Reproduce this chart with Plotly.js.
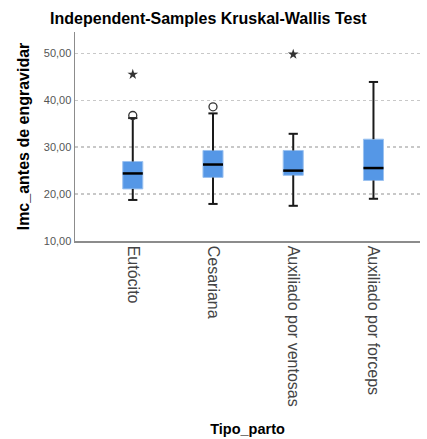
<!DOCTYPE html>
<html>
<head>
<meta charset="utf-8">
<script src="https://cdn.plot.ly/plotly-3.0.1.min.js"></script>
<style>html,body{margin:0;padding:0;background:#fff;}</style>
</head>
<body>
<div id="chart" style="width:427px;height:439px;"></div>
<script>
const categories = ["Eutócito", "Cesariana", "Auxiliado por ventosas", "Auxiliado por forceps"];
const q1Values = [21.1, 23.55, 24.0, 22.9];
const medianValues = [24.4, 26.3, 25.0, 25.55];
const q3Values = [26.95, 29.3, 29.3, 31.7];
const lowerWhisker = [18.75, 17.9, 17.5, 19.0];
const upperWhisker = [36.2, 37.2, 32.85, 43.9];
const circleOutlierCat = [0, 1];
const circleOutlierVal = [36.75, 38.6];
const starOutlierCat = [0, 2];
const starOutlierVal = [45.5, 49.8];
const yTicks = [10, 20, 30, 40, 50];

const pos = categories.map((c, i) => i);
const boxW = 0.25, capW = 0.115;

const traces = [];
traces.push({
  type: 'box', x: pos, q1: q1Values, median: medianValues, q3: q3Values,
  lowerfence: q1Values, upperfence: q3Values, width: boxW,
  fillcolor: '#5597e6', line: {color: '#9cc2f0', width: 1},
  whiskerwidth: 0, hoverinfo: 'skip', showlegend: false
});
const wx = [], wy = [];
pos.forEach((p, i) => {
  wx.push(p, p, null, p, p, null);
  wy.push(q3Values[i], upperWhisker[i], null, q1Values[i], lowerWhisker[i], null);
  wx.push(p - capW / 2, p + capW / 2, null, p - capW / 2, p + capW / 2, null);
  wy.push(upperWhisker[i], upperWhisker[i], null, lowerWhisker[i], lowerWhisker[i], null);
});
traces.push({type: 'scatter', mode: 'lines', x: wx, y: wy, line: {color: '#1a1a1a', width: 2}, hoverinfo: 'skip', showlegend: false});
const mx = [], my = [];
pos.forEach((p, i) => {
  mx.push(p - boxW / 2, p + boxW / 2, null);
  my.push(medianValues[i], medianValues[i], null);
});
traces.push({type: 'scatter', mode: 'lines', x: mx, y: my, line: {color: '#000', width: 2.5}, hoverinfo: 'skip', showlegend: false});
traces.push({type: 'scatter', mode: 'markers', x: circleOutlierCat, y: circleOutlierVal,
  marker: {symbol: 'circle-open', size: 8, color: '#333', line: {width: 1.3, color: '#333'}}, showlegend: false});
traces.push({type: 'scatter', mode: 'markers', x: starOutlierCat, y: starOutlierVal,
  marker: {symbol: 'star', size: 8, color: '#333'}, showlegend: false});

const layout = {
  width: 427, height: 439,
  margin: {l: 75, r: 7, t: 32, b: 198},
  paper_bgcolor: '#fff', plot_bgcolor: '#fff',
  separators: ',.',
  font: {family: 'Liberation Sans, Arial, sans-serif', color: '#333'},
  title: {text: 'Independent-Samples Kruskal-Wallis Test', font: {size: 16, color: '#000', weight: 'bold'},
    x: 0.488, xref: 'container', xanchor: 'center', y: 0.957, yref: 'container', yanchor: 'middle'},
  xaxis: {
    range: [-0.72, 3.58], tickvals: pos, ticktext: categories, tickangle: 90,
    tickfont: {size: 16, color: '#444'}, showgrid: false, zeroline: false,
    showline: true, linecolor: '#8c8c8c', linewidth: 1.5, ticks: '', automargin: false,
    title: {text: 'Tipo_parto', font: {size: 14.5, color: '#000', weight: 'bold'}, standoff: 18}
  },
  yaxis: {
    range: [10, 54.55], tickvals: yTicks, tickformat: '.2f',
    tickfont: {size: 11, color: '#555'}, showgrid: true, gridcolor: '#c8c8c8', griddash: 'dot', gridwidth: 1.5,
    zeroline: false, showline: true, linecolor: '#8c8c8c', linewidth: 1.5, ticks: '', automargin: false,
    title: {text: 'Imc_antes de engravidar', font: {size: 16, color: '#000', weight: 'bold'}, standoff: 10}
  }
};
Plotly.newPlot('chart', traces, layout, {displayModeBar: false, staticPlot: true});
</script>
</body>
</html>
